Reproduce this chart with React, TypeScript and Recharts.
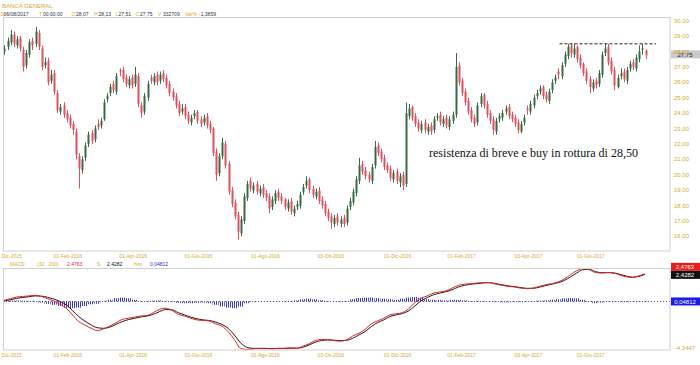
import React from "react";
import { ComposedChart, Bar, Line, XAxis, YAxis, ReferenceLine } from "recharts";

// daily candles, one every 2 trading days (t = day index)
const opens = [
  28.0, 28.3, 28.6, 29.1, 28.4, 28.9, 28.1, 27.1, 27.8, 28.7,
  28.5, 29.2, 28.2, 27.1, 27.4, 26.1, 26.6, 25.3, 24.1, 24.5,
  24.0, 23.7, 23.3, 22.8, 21.2, 20.3, 21.1, 22.0, 22.7, 22.3,
  23.3, 23.2, 23.6, 24.9, 25.3, 25.9, 25.4, 26.8, 26.8, 26.3,
  25.8, 26.3, 25.9, 26.4, 24.5, 24.1, 25.0, 26.3, 26.0, 26.5,
  26.1, 26.6, 26.3, 25.9, 25.4, 25.1, 24.6, 24.1, 24.4, 23.9,
  23.4, 23.8, 24.1, 23.6, 23.4, 23.8, 23.3, 23.0, 21.5, 20.1,
  21.2, 22.0, 20.7, 19.0, 18.2, 17.4, 16.2, 17.0, 18.5, 19.6,
  19.0, 19.4, 18.8, 19.2, 18.8, 18.6, 17.9, 18.3, 18.9, 18.6,
  18.4, 17.8, 18.3, 17.5, 17.9, 18.0, 18.9, 19.3, 19.7, 19.1,
  18.6, 19.0, 18.4, 18.1, 17.6, 17.3, 16.8, 17.3, 16.8, 17.2,
  16.9, 17.9, 18.2, 18.8, 19.6, 20.7, 20.3, 20.0, 19.6, 20.6,
  21.9, 21.5, 21.1, 20.6, 20.4, 19.7, 20.2, 19.5, 20.0, 19.4,
  23.8, 24.4, 23.8, 23.4, 22.9, 23.4, 22.8, 23.2, 22.9, 23.7,
  23.9, 23.3, 23.7, 23.1, 23.5, 23.9, 27.1, 26.1, 25.4, 24.8,
  24.2, 23.7, 23.4, 24.6, 25.2, 24.6, 24.0, 23.6, 22.8, 23.6,
  23.7, 24.1, 24.4, 23.9, 23.7, 23.4, 22.8, 23.4, 24.3, 24.1,
  24.5, 25.1, 25.4, 25.7, 25.2, 24.8, 25.5, 26.1, 26.7, 26.4,
  27.2, 27.7, 28.4, 27.8, 28.3, 27.6, 27.2, 26.7, 26.2, 25.6,
  26.1, 25.9, 26.5, 27.9, 28.3, 27.4, 26.8, 25.7, 26.4, 26.7,
  26.1, 26.9, 27.3, 26.9, 27.5, 28.1, 28.07,
];
const highs = [
  28.4, 28.9, 29.4, 29.3, 29.0, 29.0, 28.3, 28.1, 28.8, 28.9,
  29.6, 29.4, 28.4, 27.6, 27.6, 26.8, 26.8, 25.5, 24.6, 24.7,
  24.2, 23.9, 23.5, 23.0, 21.4, 21.2, 22.1, 22.8, 22.9, 23.2,
  23.6, 23.7, 24.9, 25.3, 25.9, 26.1, 26.6, 26.9, 27.0, 26.5,
  26.4, 26.5, 27.0, 26.6, 24.7, 25.3, 26.1, 26.5, 26.6, 26.7,
  26.7, 26.8, 26.5, 26.1, 25.6, 25.3, 24.8, 24.6, 24.6, 24.1,
  23.9, 24.2, 24.2, 23.8, 23.9, 24.0, 23.5, 23.1, 21.7, 21.4,
  22.4, 22.2, 20.9, 19.2, 18.4, 17.6, 17.3, 18.8, 19.6, 19.8,
  19.5, 19.6, 19.3, 19.4, 19.0, 18.8, 18.6, 19.0, 19.1, 18.8,
  18.5, 18.4, 18.5, 18.0, 18.3, 18.9, 19.4, 19.9, 19.8, 19.3,
  19.1, 19.2, 18.6, 18.3, 17.8, 17.5, 17.4, 17.5, 17.3, 17.4,
  18.0, 18.5, 19.1, 19.9, 21.1, 20.9, 20.5, 20.2, 20.7, 22.2,
  22.1, 21.7, 21.3, 20.8, 20.6, 20.3, 20.4, 20.1, 20.2, 24.7,
  24.6, 24.5, 24.0, 23.6, 23.5, 23.6, 23.3, 23.4, 23.8, 24.0,
  24.1, 23.8, 23.9, 23.8, 24.1, 27.9, 27.3, 26.3, 25.6, 25.0,
  24.4, 23.9, 24.7, 25.3, 25.3, 24.8, 24.2, 23.8, 23.7, 24.0,
  24.2, 24.5, 24.6, 24.1, 23.9, 23.6, 23.5, 23.9, 24.5, 24.8,
  25.2, 25.5, 25.8, 25.8, 25.4, 25.6, 26.2, 26.5, 26.9, 27.3,
  28.0, 28.5, 28.5, 28.5, 28.4, 27.8, 27.3, 26.9, 26.4, 26.2,
  26.3, 26.8, 28.0, 28.5, 28.5, 27.6, 27.0, 26.5, 26.9, 26.9,
  27.0, 27.4, 27.5, 27.8, 28.4, 28.5, 28.13,
];
const lows = [
  27.8, 28.1, 28.4, 28.3, 28.2, 28.0, 26.7, 26.9, 27.6, 28.1,
  28.3, 28.1, 26.8, 26.9, 25.8, 25.9, 25.2, 24.0, 23.9, 23.7,
  23.4, 23.0, 22.6, 21.0, 19.1, 20.1, 20.9, 21.8, 22.0, 22.1,
  22.9, 23.0, 23.5, 24.7, 25.1, 25.3, 25.2, 26.4, 26.0, 25.7,
  25.6, 25.6, 25.7, 24.4, 23.7, 23.9, 24.8, 25.9, 25.8, 25.8,
  25.9, 26.0, 25.6, 25.1, 24.8, 24.3, 23.8, 23.9, 23.6, 23.3,
  23.2, 23.6, 23.3, 23.1, 23.2, 23.0, 22.7, 21.2, 19.6, 19.9,
  21.0, 20.4, 18.7, 17.9, 17.1, 15.8, 16.0, 16.8, 18.3, 18.9,
  18.8, 18.7, 18.6, 18.5, 18.3, 17.5, 17.7, 18.1, 18.3, 18.1,
  17.7, 17.6, 17.4, 17.3, 17.7, 17.8, 18.7, 19.1, 18.8, 18.5,
  18.4, 18.1, 17.8, 17.3, 17.0, 16.5, 16.6, 16.7, 16.6, 16.6,
  16.7, 17.7, 18.0, 18.6, 19.4, 20.0, 19.7, 19.5, 19.4, 20.4,
  21.2, 20.8, 20.3, 20.1, 19.6, 19.5, 19.4, 19.2, 19.0, 19.2,
  23.6, 23.5, 23.1, 22.8, 22.7, 22.7, 22.6, 22.6, 22.7, 23.5,
  23.2, 23.1, 23.0, 22.9, 23.3, 23.7, 25.8, 25.1, 24.5, 23.9,
  23.4, 23.1, 23.2, 24.4, 24.3, 23.7, 23.3, 22.6, 22.6, 23.4,
  23.5, 23.9, 23.6, 23.4, 23.1, 22.7, 22.7, 23.2, 23.9, 23.9,
  24.3, 24.9, 25.2, 24.9, 24.7, 24.6, 25.3, 25.9, 26.2, 26.2,
  27.0, 27.5, 27.6, 27.6, 27.3, 26.9, 26.4, 25.9, 25.3, 25.4,
  25.6, 25.7, 26.3, 27.7, 27.1, 26.5, 25.5, 25.6, 26.2, 26.0,
  25.9, 26.7, 26.8, 26.7, 27.3, 27.8, 27.51,
];
const closes = [
  28.2, 28.7, 29.1, 28.5, 28.8, 28.2, 27.0, 27.9, 28.6, 28.4,
  29.3, 28.3, 27.0, 27.3, 26.0, 26.5, 25.4, 24.2, 24.4, 23.9,
  23.6, 23.2, 22.9, 21.3, 20.4, 21.0, 21.9, 22.6, 22.2, 23.0,
  23.1, 23.5, 24.7, 25.1, 25.7, 25.5, 26.4, 26.7, 26.2, 25.9,
  26.2, 25.8, 26.5, 24.6, 24.0, 25.1, 25.9, 26.1, 26.4, 26.0,
  26.5, 26.2, 25.8, 25.3, 25.0, 24.5, 24.0, 24.3, 23.8, 23.5,
  23.7, 24.0, 23.5, 23.3, 23.7, 23.2, 22.9, 21.4, 20.0, 21.2,
  22.1, 20.6, 18.9, 18.1, 17.3, 16.3, 17.1, 18.6, 19.4, 19.1,
  19.3, 18.9, 19.1, 18.7, 18.5, 17.8, 18.4, 18.8, 18.5, 18.3,
  17.9, 18.2, 17.6, 17.8, 18.1, 18.7, 19.2, 19.6, 19.0, 18.7,
  18.9, 18.3, 18.0, 17.5, 17.2, 16.9, 17.2, 16.9, 17.1, 16.8,
  17.8, 18.3, 18.9, 19.7, 20.6, 20.2, 19.9, 19.7, 20.5, 21.8,
  21.4, 21.0, 20.5, 20.3, 19.8, 20.1, 19.6, 19.9, 19.3, 24.0,
  24.3, 23.7, 23.3, 23.0, 23.3, 22.9, 23.1, 22.8, 23.6, 23.8,
  23.4, 23.6, 23.2, 23.6, 23.9, 27.0, 26.0, 25.3, 24.7, 24.1,
  23.6, 23.3, 24.5, 25.1, 24.5, 23.9, 23.5, 22.9, 23.5, 23.8,
  24.0, 24.3, 23.8, 23.6, 23.3, 22.9, 23.3, 23.7, 24.2, 24.6,
  25.0, 25.3, 25.6, 25.1, 24.9, 25.4, 26.0, 26.3, 26.5, 27.1,
  27.8, 28.3, 27.9, 28.2, 27.5, 27.1, 26.6, 26.1, 25.7, 26.0,
  25.8, 26.6, 27.8, 28.2, 27.3, 26.7, 25.8, 26.3, 26.6, 26.2,
  26.8, 27.2, 27.0, 27.6, 28.0, 28.2, 27.75,
];

// MACD panel, one point every 4 trading days
const macdLine = [
  0.1, 0.25, 0.4, 0.45, 0.5, 0.56, 0.45, 0.25, 0.05, -0.25,
  -0.6, -1.2, -1.8, -2.1, -2.4, -2.6, -2.45, -2.2, -1.9, -1.6,
  -1.5, -1.4, -1.3, -1.25, -1.0, -0.7, -0.6, -0.8, -1.15, -1.3,
  -1.5, -1.65, -1.7, -1.75, -2.0, -2.2, -2.7, -3.4, -4.2, -4.3,
  -4.25, -4.2, -4.2, -4.25, -4.2, -4.2, -4.15, -4.2, -4.0, -3.8,
  -3.5, -3.4, -3.4, -3.5, -3.55, -3.45, -3.1, -2.85, -2.5, -2.0,
  -1.75, -1.5, -1.2, -1.1, -1.0, -0.65, -0.1, 0.3, 0.5, 0.75,
  0.85, 0.95, 1.2, 1.45, 1.55, 1.6, 1.65, 1.7, 1.7, 1.55,
  1.45, 1.35, 1.3, 1.2, 1.15, 1.2, 1.35, 1.5, 1.6, 1.75,
  2.0, 2.4, 2.75, 2.95, 2.85, 2.6, 2.55, 2.6, 2.55, 2.35,
  2.2, 2.15, 2.3, 2.4763,
];
const signalLine = [
  0.05, 0.15, 0.28, 0.36, 0.43, 0.5, 0.48, 0.38, 0.22, 0.0,
  -0.3, -0.8, -1.35, -1.75, -2.1, -2.35, -2.4, -2.3, -2.05, -1.8,
  -1.62, -1.5, -1.38, -1.3, -1.15, -0.9, -0.72, -0.75, -1.0, -1.2,
  -1.4, -1.55, -1.65, -1.7, -1.85, -2.05, -2.4, -3.0, -3.7, -4.1,
  -4.2, -4.2, -4.2, -4.22, -4.2, -4.2, -4.18, -4.18, -4.1, -3.9,
  -3.65, -3.5, -3.45, -3.47, -3.5, -3.48, -3.3, -3.0, -2.7, -2.25,
  -1.9, -1.65, -1.35, -1.2, -1.08, -0.85, -0.4, 0.05, 0.35, 0.6,
  0.75, 0.88, 1.05, 1.3, 1.45, 1.55, 1.6, 1.66, 1.68, 1.6,
  1.5, 1.4, 1.33, 1.25, 1.18, 1.18, 1.28, 1.42, 1.55, 1.68,
  1.88, 2.2, 2.55, 2.85, 2.88, 2.68, 2.58, 2.58, 2.56, 2.42,
  2.28, 2.18, 2.25, 2.4282,
];
const histValues = [
  0.05, 0.08, 0.1, 0.08, 0.06, 0.05, -0.1, -0.2, -0.3, -0.4,
  -0.55, -0.6, -0.55, -0.4, -0.25, -0.2, -0.05, 0.15, 0.3, 0.35,
  0.3, 0.15, 0.05, 0.05, 0.08, 0.1, 0.05, -0.05, -0.12, -0.15,
  -0.15, -0.12, -0.1, -0.15, -0.3, -0.45, -0.55, -0.6, -0.45, -0.15,
  -0.05, 0.03, 0.02, -0.02, 0.02, 0.05, 0.05, 0.1, 0.2, 0.25,
  0.2, 0.12, 0.05, -0.02, -0.05, 0.05, 0.2, 0.3, 0.35, 0.35,
  0.3, 0.25, 0.2, 0.15, 0.25, 0.35, 0.4, 0.35, 0.2, 0.15,
  0.15, 0.1, 0.15, 0.15, 0.1, 0.05, 0.05, 0.05, 0.02, -0.05,
  -0.08, -0.08, -0.05, -0.06, -0.04, 0.03, 0.08, 0.1, 0.15, 0.2,
  0.28, 0.3, 0.28, 0.15, -0.05, -0.15, -0.1, -0.05, -0.04, -0.05,
  -0.06, -0.04, 0.03, 0.04812,
];

const tickDays = [5, 41, 83, 125, 168, 210, 253, 294, 337, 377];
const tickLabels = [
  "Dic-2015", "01-Feb-2016", "01-Apr-2016", "01-Giu-2016", "01-Ago-2016",
  "03-Ott-2016", "01-Dic-2016", "01-Feb-2017", "03-Apr-2017", "01-Giu-2017",
];
const priceTicks = [16, 17, 18, 19, 20, 21, 22, 23, 24, 25, 26, 27, 28, 29, 30];

const lastClose = 27.75;
const resistance = 28.5;
const resistanceFrom = 357;
const resistanceTo = 419;
const macdMin = -4.3447;

const GOLD = "#d6a832";
const RED = "#e0505e";
const GREEN = "#3a6a44";
const FRAME = "#cfcfcf";
const FONT = "'Liberation Sans', Arial, sans-serif";

const candleData = closes.map((c, i) => ({
  t: i * 2,
  open: opens[i],
  high: highs[i],
  low: lows[i],
  close: c,
  range: [lows[i], highs[i]],
}));

const macdData = macdLine.map((m, i) => ({
  t: i * 4,
  macd: m,
  signal: signalLine[i],
  hist: histValues[i],
}));

const fmt = (v: number) => v.toFixed(2).replace(".", ",");
const dateLabel = (v: number) => tickLabels[tickDays.indexOf(v)] ?? "";

const Candle = (props: any) => {
  const { x, y, width, height, payload } = props;
  if (x == null || y == null) return null;
  const { open, close, high, low } = payload;
  const color = close >= open ? GREEN : RED;
  const k = height / (high - low || 1);
  const yo = y + (high - open) * k;
  const yc = y + (high - close) * k;
  const cx = Math.round(x + width / 2) + 0.5;
  const top = Math.min(yo, yc);
  const h = Math.max(1, Math.abs(yo - yc));
  return (
    <g>
      <line x1={cx} x2={cx} y1={y} y2={y + height} stroke={color} strokeWidth={1} />
      <rect x={cx - 1} y={top} width={2} height={h} fill={color} />
    </g>
  );
};

const valueBox = (text: string, bg: string, fg: string, dy: number) => (props: any) => {
  const vb = props.viewBox;
  if (!vb) return null;
  const x = vb.x + vb.width + 1;
  const y = vb.y + dy;
  return (
    <g>
      {bg !== "none" && <rect x={x} y={y - 4} width={29} height={8} fill={bg} />}
      <text x={x + 14} y={y + 2.2} textAnchor="middle" fontSize={6} fontFamily={FONT} fill={fg}>
        {text}
      </text>
    </g>
  );
};

const DateTick = (props: any) => {
  const { x, y, payload } = props;
  return (
    <text x={x} y={y + 5} textAnchor="middle" fontSize={5} fontFamily={FONT} fill={GOLD}>
      {dateLabel(payload.value)}
    </text>
  );
};

const PriceTick = (props: any) => {
  const { x, y, payload } = props;
  return (
    <text x={x + 2} y={y + 2} textAnchor="start" fontSize={6} fontFamily={FONT} fill={GOLD}>
      {fmt(payload.value)}
    </text>
  );
};

const App = () => {
  return (
    <div style={{ position: "absolute", left: 0, top: 0, width: 700, height: 365, background: "#fff" }}>
      <div style={{ position: "absolute", left: 0, top: 0 }}>
        <ComposedChart width={700} height={262} data={candleData} margin={{ top: 17, right: 0, bottom: 0, left: 4 }}>
          <XAxis
            dataKey="t"
            type="number"
            domain={[0, 428]}
            allowDataOverflow
            ticks={tickDays}
            interval={0}
            tick={<DateTick />}
            tickLine={false}
            axisLine={false}
            tickSize={0}
            height={11}
          />
          <YAxis
            orientation="right"
            type="number"
            domain={[15.05, 30.24]}
            allowDataOverflow
            ticks={priceTicks}
            interval={0}
            tick={<PriceTick />}
            tickLine={false}
            axisLine={false}
            tickSize={0}
            width={30}
          />
          <Bar dataKey="range" barSize={2} shape={<Candle />} isAnimationActive={false} />
          <ReferenceLine
            segment={[{ x: resistanceFrom, y: resistance }, { x: resistanceTo, y: resistance }]}
            stroke="#222"
            strokeDasharray="3 2"
            ifOverflow="visible"
          />
          <ReferenceLine y={lastClose} stroke="none" label={valueBox(fmt(lastClose), "#c9c9c9", "#222", -1)} />
        </ComposedChart>
      </div>
      <div style={{ position: "absolute", left: 0, top: 262 }}>
        <ComposedChart width={700} height={103} data={macdData} margin={{ top: 6, right: 0, bottom: 0, left: 4 }}>
          <defs>
            <pattern id="histHatch" width="2" height="4" patternUnits="userSpaceOnUse">
              <rect x="0" y="0" width="1" height="4" fill="#3c3ca8" />
            </pattern>
          </defs>
          <XAxis
            dataKey="t"
            type="number"
            domain={[0, 428]}
            allowDataOverflow
            ticks={tickDays}
            interval={0}
            tick={<DateTick />}
            tickLine={false}
            axisLine={false}
            tickSize={0}
            height={15}
          />
          <YAxis
            orientation="right"
            type="number"
            domain={[macdMin, 3.0]}
            allowDataOverflow
            tick={false}
            tickLine={false}
            axisLine={false}
            width={30}
          />
          <ReferenceLine y={0} stroke="#4a4ab0" strokeDasharray="1 2" />
          <Bar dataKey="hist" barSize={6} fill="url(#histHatch)" isAnimationActive={false} />
          <Line dataKey="signal" type="monotone" stroke="#3a1212" strokeWidth={1} dot={false} isAnimationActive={false} />
          <Line dataKey="macd" type="monotone" stroke="#d42828" strokeWidth={1} dot={false} isAnimationActive={false} />
          <ReferenceLine y={macdLine[macdLine.length - 1]} stroke="none" label={valueBox("2,4763", "#ee1c1c", "#fff", -7)} />
          <ReferenceLine y={signalLine[signalLine.length - 1]} stroke="none" label={valueBox("2,4282", "#111", "#fff", 0.5)} />
          <ReferenceLine y={histValues[histValues.length - 1]} stroke="none" label={valueBox("0,04812", "#1a1aee", "#fff", 0.5)} />
          <ReferenceLine y={macdMin} stroke="none" label={valueBox("-4,3447", "none", GOLD, -2)} />
        </ComposedChart>
      </div>
      <svg width={700} height={365} style={{ position: "absolute", left: 0, top: 0, pointerEvents: "none" }}>
        <rect x={3.5} y={17.5} width={666.5} height={233.5} fill="none" stroke={FRAME} />
        <rect x={3.5} y={268.5} width={666.5} height={81.5} fill="none" stroke={FRAME} />
        <g fontFamily={FONT}>
          <text x={2} y={8} fontSize={6} fill={GOLD}>BANCA GENERAL</text>
          <g fontSize={5}>
            <text x={0.5} y={15.5} fill={GOLD}>D</text>
            <text x={3.5} y={15.5} fill="#333">06/08/2017</text>
            <text x={39} y={15.5} fill={GOLD}>T</text>
            <text x={43} y={15.5} fill="#333">00:00:00</text>
            <text x={71.5} y={15.5} fill={GOLD}>O</text>
            <text x={76} y={15.5} fill="#333">28,07</text>
            <text x={94} y={15.5} fill={GOLD}>H</text>
            <text x={98.5} y={15.5} fill="#333">28,13</text>
            <text x={115.5} y={15.5} fill={GOLD}>L</text>
            <text x={118.5} y={15.5} fill="#333">27,51</text>
            <text x={135.5} y={15.5} fill={GOLD}>C</text>
            <text x={140} y={15.5} fill="#333">27,75</text>
            <text x={158} y={15.5} fill={GOLD}>V</text>
            <text x={163} y={15.5} fill="#333">332709</text>
            <text x={185} y={15.5} fill={GOLD}>Var%</text>
            <text x={199} y={15.5} fill="#333">-1,3859</text>
          </g>
          <g fontSize={5}>
            <text x={10} y={266} fill={GOLD}>MACD</text>
            <text x={37} y={266} fill={GOLD}>(32 , 200):</text>
            <text x={67} y={266} fill="#d42828">2,4763</text>
            <text x={97} y={266} fill={GOLD}>S</text>
            <text x={107} y={266} fill="#111">2,4282</text>
            <text x={134} y={266} fill={GOLD}>hist</text>
            <text x={150} y={266} fill="#2a2ad0">0,04812</text>
          </g>
        </g>
        <text
          x={429}
          y={157}
          fontSize={13}
          fontFamily="'Liberation Serif', 'Times New Roman', serif"
          fill="#111"
          textLength={209}
          lengthAdjust="spacingAndGlyphs"
        >
          resistenza di breve e buy in rottura di 28,50
        </text>
      </svg>
    </div>
  );
};

export default App;
